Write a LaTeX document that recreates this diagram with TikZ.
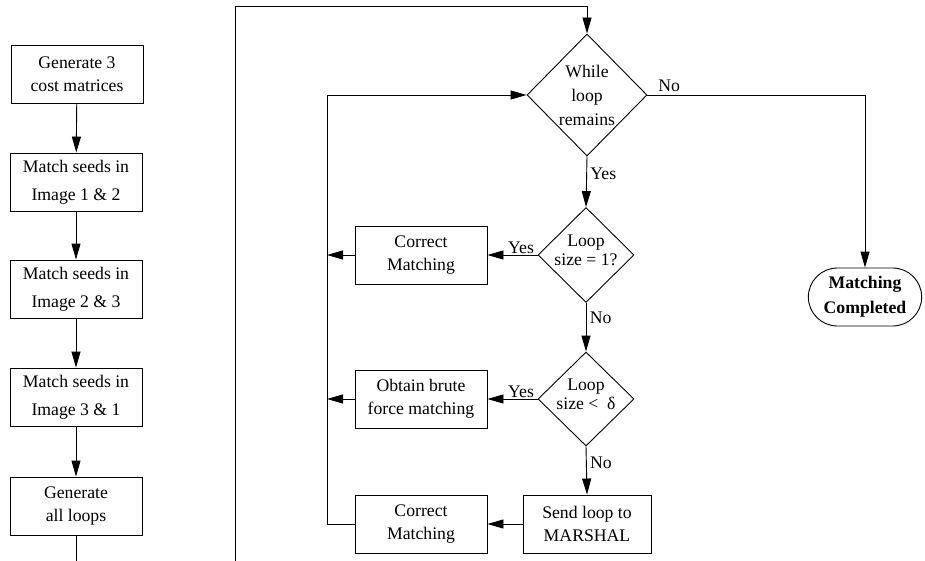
\documentclass[tikz,border=0pt]{standalone}
\usepackage{fontspec}
\setmainfont{Liberation Serif}
\usetikzlibrary{shapes,arrows.meta,positioning,calc}

\tikzset{
  blk/.style={draw, line width=0.9pt, minimum width=132, minimum height=58, align=center, inner sep=2pt},
  dec/.style={draw, line width=0.9pt, diamond, inner sep=0pt},
  term/.style={draw, line width=0.9pt, rounded rectangle, minimum width=120, minimum height=58, align=center,
               font=\fontsize{17.7}{25}\selectfont\bfseries},
  arr/.style={-{Triangle[length=16pt,width=9pt]}, line width=0.9pt},
  ln/.style={line width=0.9pt}
}

\begin{document}
\begin{tikzpicture}[x=1pt, y=-1pt, every node/.style={font=\fontsize{17.7}{23}\selectfont}]
            \useasboundingbox (0,0) rectangle (925,561);

            % Left column
            \node[blk] (gen) at (77,74) {Generate 3\\cost matrices};
            \node[blk] (m12) at (76,182) {Match seeds in\\[5pt]Image 1 \& 2};
            \node[blk] (m23) at (76,289) {Match seeds in\\[5pt]Image 2 \& 3};
            \node[blk] (m31) at (76,397) {Match seeds in\\[5pt]Image 3 \& 1};
            \node[blk] (loops) at (76,506) {Generate\\all loops};
            \coordinate (lout) at (loops.south |- 0,561);

            \draw[arr] (gen) -- (m12);
            \draw[arr] (m12) -- (m23);
            \draw[arr] (m23) -- (m31);
            \draw[arr] (m31) -- (loops);
            \draw[ln] (loops) -- (lout);

            % Decisions
            \node[dec, minimum width=120, minimum height=122,
                  label={[align=center, font=\fontsize{17.7}{24}\selectfont]center:While\\loop\\remains}] (wl) at (587,95) {};
            \node[dec, minimum width=96, minimum height=95,
                  label={[align=center, font=\fontsize{17.7}{19}\selectfont, yshift=5pt]center:Loop\\size = 1?}] (one) at (586,255) {};
            \node[dec, minimum width=96, minimum height=94,
                  label={[align=center, font=\fontsize{17.7}{19}\selectfont, yshift=5pt]center:Loop\\size <\ \ δ}] (lt) at (586,399) {};

            % Actions
            \node[blk] (cm1) at (421,255) {Correct\\Matching};
            \node[blk] (bf) at (421,399) {Obtain brute\\force matching};
            \node[blk] (cm2) at (421,524) {Correct\\Matching};
            \node[blk, minimum width=128] (msh) at (587,524) {Send loop to\\MARSHAL};
            \node[term] (done) at (865,297) {Matching\\Completed};

            % Outer and inner loops
            \coordinate (otop) at (235,6);
            \coordinate (obot) at (235,561);
            \coordinate (ib) at (327,524);

            \draw[arr] (obot) -- (otop) -| (wl.north);
            \draw[arr] (cm2.west) -- (ib) |- (wl.west);
            \draw[arr] (cm1.west) -- (cm1.west -| ib);
            \draw[arr] (bf.west) -- (bf.west -| ib);

            % Branches
            \draw[arr] (wl.south) -- node[right, pos=0.35] {Yes} (one.north);
            \draw[arr] (wl.east) -| node[above, pos=0.05] {No} (done.north);
            \draw[arr] (one.west) -- node[above, pos=0.33, inner sep=1pt] {Yes} (cm1.east);
            \draw[arr] (one.south) -- node[right, pos=0.3] {No} (lt.north);
            \draw[arr] (lt.west) -- node[above, pos=0.33, inner sep=1pt] {Yes} (bf.east);
            \draw[arr] (lt.south) -- node[right, pos=0.33] {No} (msh.north);
            \draw[arr] (msh.west) -- (cm2.east);
\end{tikzpicture}
\end{document}
